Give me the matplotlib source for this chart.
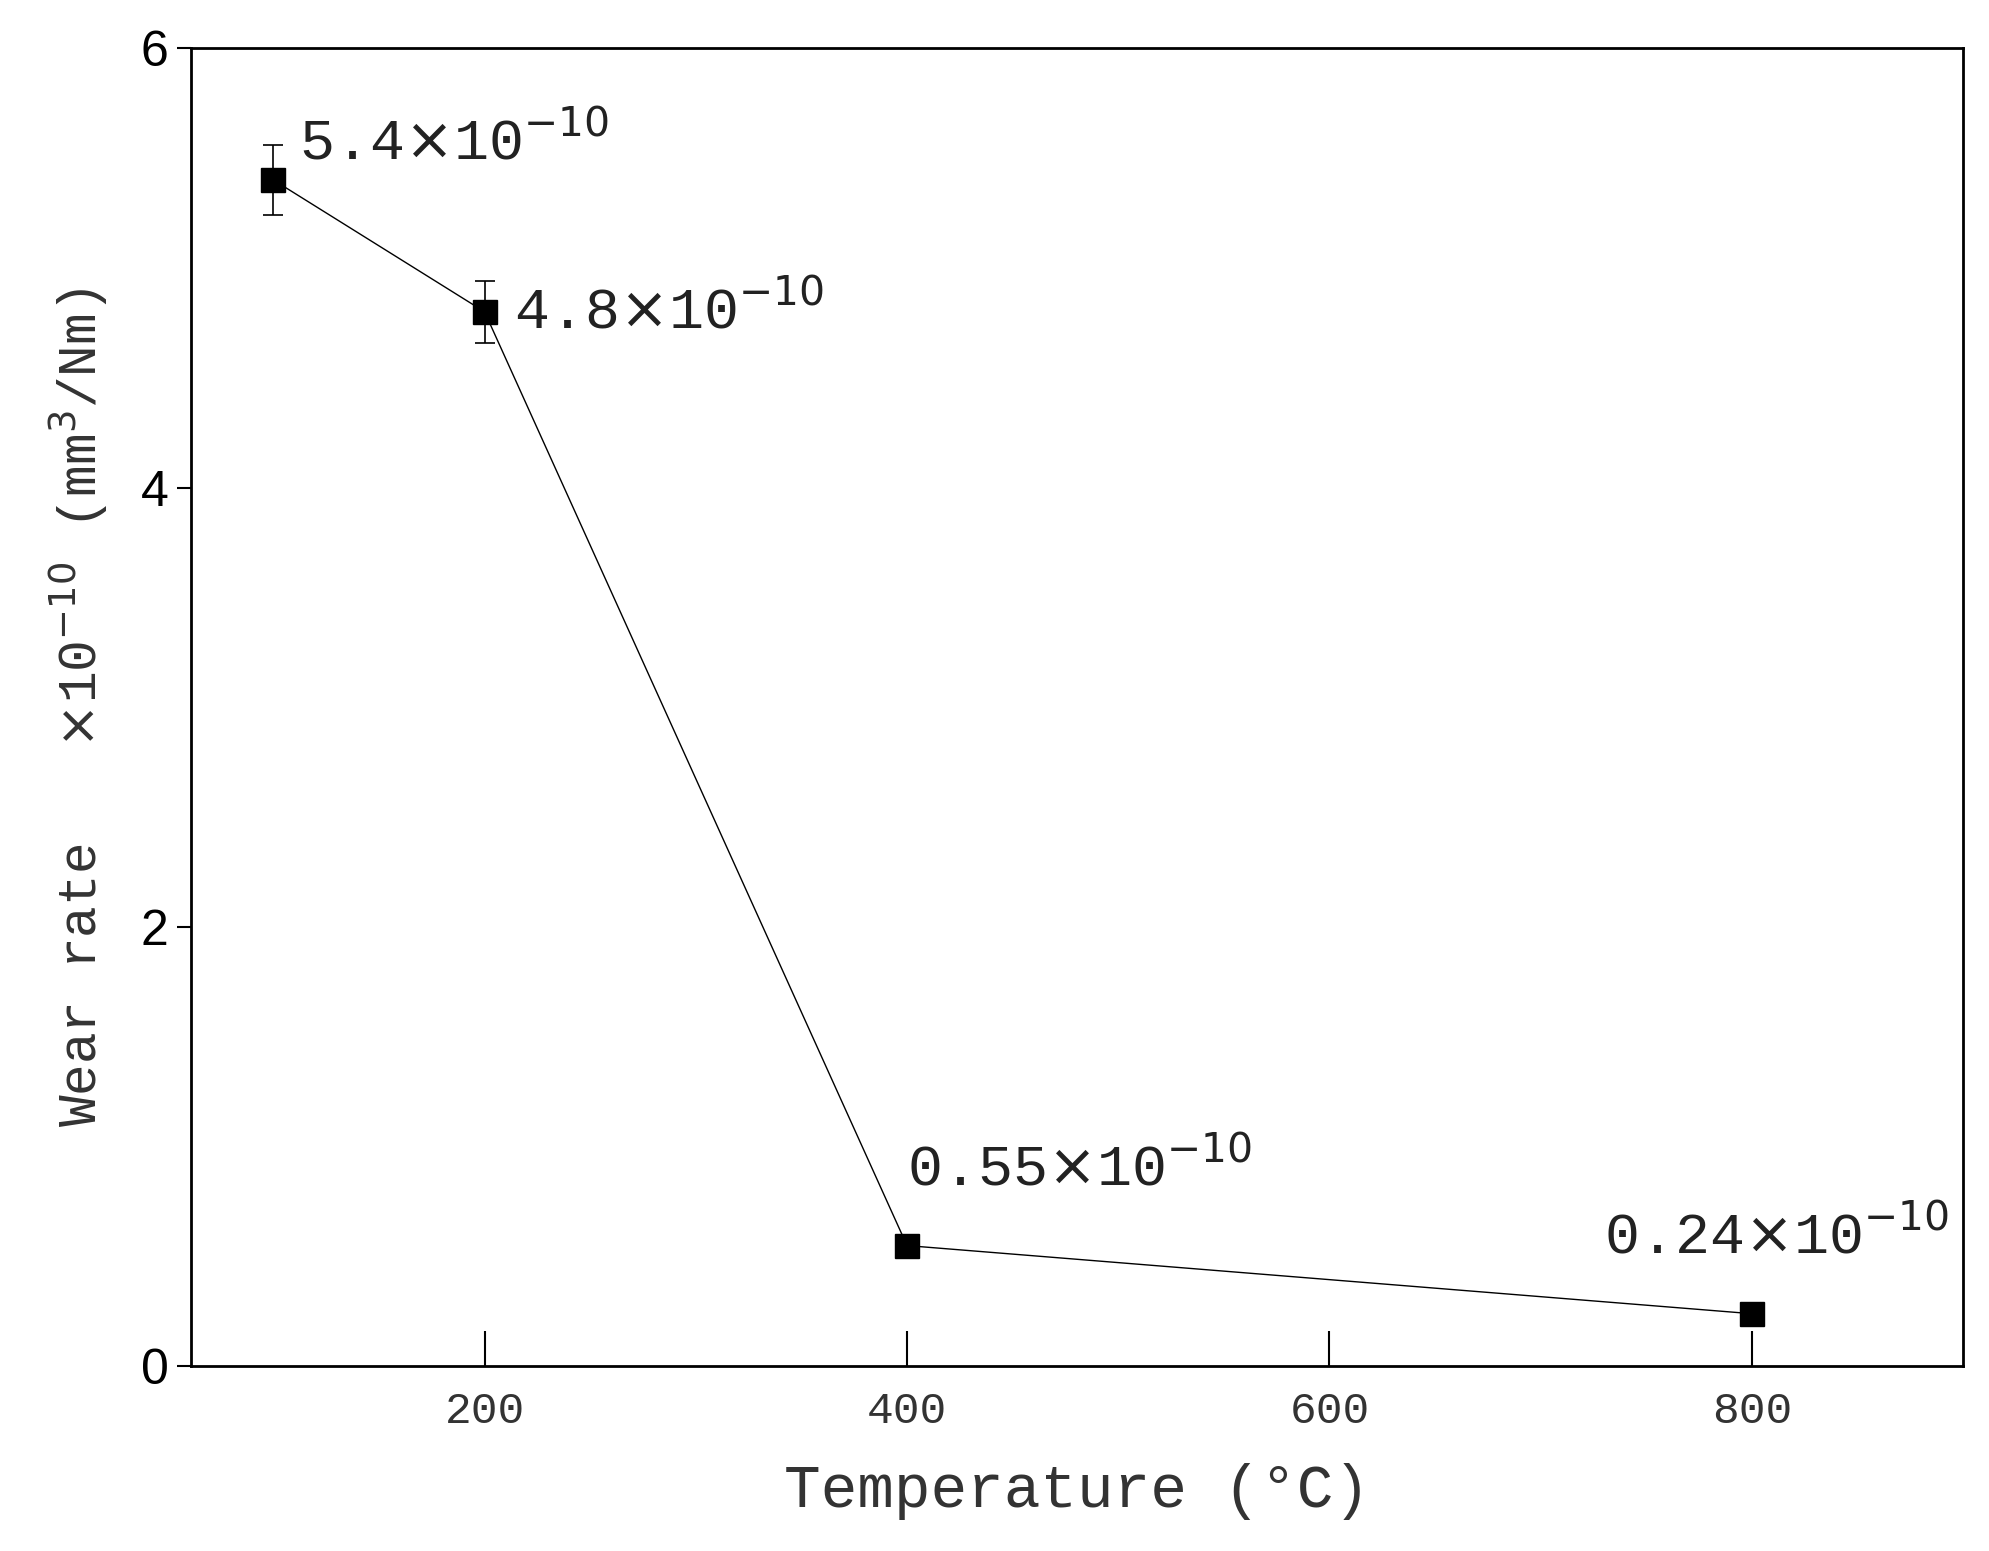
import matplotlib
matplotlib.use("Agg")
import matplotlib.pyplot as plt

temps = [100, 200, 400, 800]
wear = [5.4, 4.8, 0.55, 0.24]
errs = [0.16, 0.14, 0.0, 0.0]
labels = ["5.4", "4.8", "0.55", "0.24"]
xticks = [200, 400, 600, 800]
yticks = [0, 2, 4, 6]

fig = plt.figure(figsize=(19.89, 15.51), dpi=100)
ax = fig.add_axes([0.096, 0.119, 0.891, 0.85])
ax.errorbar(temps, wear, yerr=errs, color="black", lw=1.0, marker="s", ms=17,
            capsize=7, elinewidth=1.2, capthick=1.2)
ax.set_xlim(61, 900)
ax.set_ylim(0, 6)
ax.set_xticks(xticks)
ax.set_yticks(yticks)
mono = "Liberation Mono"
ax.set_xticklabels([str(t) for t in xticks], family=mono, fontsize=32, color="#333333")
ax.set_yticklabels([str(t) for t in yticks], family="Liberation Sans", fontsize=36)
ax.tick_params(axis="x", direction="in", length=25, width=1.5, pad=18)
ax.tick_params(axis="y", direction="out", length=10, width=1.5, pad=6)
for s in ax.spines.values():
    s.set_linewidth(2)

offsets = [(12, 0.17), (14, 0.0), (0, 0.35), (-70, 0.35)]
for x, y, l, (dx, dy) in zip(temps, wear, labels, offsets):
    ax.text(x + dx, y + dy, l + r"$\times$10$^{-10}$", family=mono, fontsize=42,
            va="center", ha="left", color="#222222")

ax.set_xlabel("Temperature (°C)", family=mono, fontsize=44, color="#333333", labelpad=22)
ax.set_ylabel(r"Wear rate   $\times$10$^{-10}$ (mm$^3$/Nm)", family=mono, fontsize=38,
              color="#333333", labelpad=22)
fig.savefig("out.png", dpi=100)
